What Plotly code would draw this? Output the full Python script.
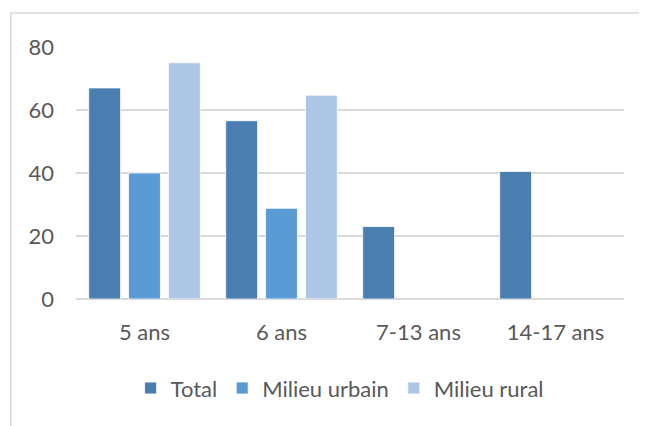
import plotly.graph_objects as go

categories = ["5 ans", "6 ans", "7-13 ans", "14-17 ans"]
total = [67, 56.6, 23, 40.5]
urbain = [40, 28.8, None, None]
rural = [75, 64.7, None, None]

series_names = ["Total", "Milieu urbain", "Milieu rural"]
colors = ["#4A7EB1", "#5B9BD5", "#ADC6E5"]

fig = go.Figure()
for name, vals, col in zip(series_names, [total, urbain, rural], colors):
    fig.add_trace(go.Bar(
        x=categories, y=vals, name=name,
        marker=dict(color=col, line=dict(color="white", width=0.8)),
    ))

# page body has an 8px margin, so margins are shifted to land the plot where the reference has it
font_family = "Lato, Open Sans, sans-serif"
fig.update_layout(
    width=647, height=426,
    template="plotly_white",
    paper_bgcolor="white", plot_bgcolor="white",
    barmode="group", bargap=0.127, bargroupgap=0.2,
    margin=dict(l=68, r=30.5, t=39, b=134.5),
    font=dict(family=font_family, size=22, color="#595959"),
    showlegend=True,
    legend=dict(
        orientation="h", x=0.481, xanchor="center", y=-0.354, yanchor="middle",
        font=dict(size=22, color="#595959"), traceorder="normal",
        itemwidth=30,
    ),
    shapes=[dict(
        type="rect", xref="paper", yref="paper",
        x0=-0.119, x1=1.2, y0=-0.6, y1=1.1347,
        line=dict(color="#D9D9D9", width=1.5), layer="below",
    )],
)
fig.update_xaxes(
    showgrid=False, showline=False, zeroline=False, ticks="",
    ticklabelstandoff=18, tickfont=dict(size=22, color="#595959"),
)
fig.update_yaxes(
    range=[0, 80], dtick=20, showgrid=True, gridcolor="#D9D9D9", gridwidth=1.5,
    zeroline=True, zerolinecolor="#D9D9D9", zerolinewidth=1.5,
    showline=False, ticks="", ticklabelstandoff=21,
    tickfont=dict(size=22, color="#595959"),
)

fig.write_html("out.html")
